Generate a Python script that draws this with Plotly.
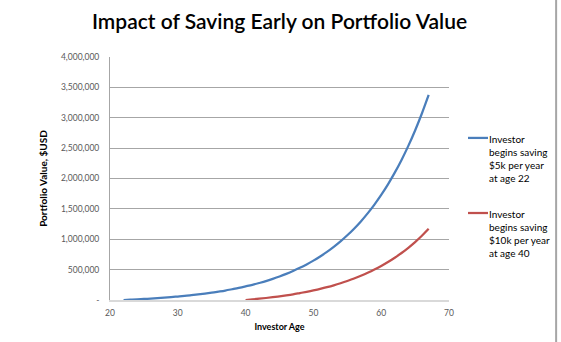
import plotly.graph_objects as go

# Portfolio value by investor age (USD), read year by year
ages_early = list(range(22, 68))
value_early = [
    0, 5000, 10000, 17000, 23000, 30000, 38000, 47000, 57000, 67000,
    79000, 92000, 106000, 121000, 138000, 156000, 177000, 199000, 224000, 250000,
    280000, 312000, 348000, 387000, 430000, 477000, 529000, 586000, 648000, 717000,
    792000, 875000, 965000, 1065000, 1174000, 1294000, 1426000, 1571000, 1730000, 1904000,
    2096000, 2306000, 2537000, 2791000, 3070000, 3375000,
]

ages_late = list(range(40, 68))
value_late = [
    0, 10000, 21000, 33000, 46000, 61000, 77000, 94000, 114000, 135000,
    158000, 183000, 211000, 242000, 276000, 313000, 353000, 398000, 447000, 501000,
    560000, 625000, 696000, 774000, 860000, 954000, 1058000, 1172000,
]

name_early = "Investor<br>begins saving<br>$5k per year<br>at age 22"
name_late = "Investor<br>begins saving<br>$10k per year<br>at age 40"

y_ticks = [0, 500000, 1000000, 1500000, 2000000, 2500000, 3000000, 3500000, 4000000]
y_tick_text = ["-", "500,000", "1,000,000", "1,500,000", "2,000,000",
               "2,500,000", "3,000,000", "3,500,000", "4,000,000"]
x_ticks = [20, 30, 40, 50, 60, 70]

FONT = "Lato, 'Open Sans', sans-serif"
TICK_COLOR = "#595959"
BLUE = "#4A7EBB"
RED = "#C0504D"

fig = go.Figure()
fig.add_trace(go.Scatter(
    x=ages_early, y=value_early, mode="lines", name=name_early,
    line=dict(color=BLUE, width=2.25, shape="spline"),
))
fig.add_trace(go.Scatter(
    x=ages_late, y=value_late, mode="lines", name=name_late,
    line=dict(color=RED, width=2.25, shape="spline"),
))

# Legend drawn beside the plot: a short line key plus wrapped label per series
legend_shapes = []
legend_notes = []
for color, label, y_key, y_text in [
    (BLUE, name_early, 0.667, 0.695),
    (RED, name_late, 0.358, 0.386),
]:
    legend_shapes.append(dict(
        type="line", xref="paper", yref="paper",
        x0=1.056, x1=1.115, y0=y_key, y1=y_key,
        line=dict(color=color, width=2.25),
    ))
    legend_notes.append(dict(
        xref="paper", yref="paper", x=1.113, y=y_text,
        xanchor="left", yanchor="top", align="left", showarrow=False,
        text=label, font=dict(family=FONT, size=10, color="#000000"),
    ))

fig.update_layout(
    width=561, height=342,
    margin=dict(l=110, r=112, t=57, b=42),
    paper_bgcolor="white", plot_bgcolor="white",
    showlegend=False,
    title=dict(
        text="Impact of Saving Early on Portfolio Value",
        x=0.5, xanchor="center", xref="paper",
        y=0.936, yanchor="middle",
        font=dict(family=FONT, size=21, color="#000000", weight=600),
    ),
    xaxis=dict(
        range=[20, 70], tickvals=x_ticks,
        tickfont=dict(family=FONT, size=8.5, color=TICK_COLOR),
        showgrid=False, zeroline=False,
        showline=True, linecolor="#D9D9D9", linewidth=2,
        ticks="", ticklabelstandoff=4,
        title=dict(text="<b>Investor Age</b>", standoff=6,
                   font=dict(family=FONT, size=9, color="#000000")),
    ),
    yaxis=dict(
        range=[0, 4000000], tickvals=y_ticks, ticktext=y_tick_text,
        tickfont=dict(family=FONT, size=8.5, color=TICK_COLOR),
        showgrid=True, gridcolor="#A6A6A6", gridwidth=1,
        zeroline=False,
        showline=True, linecolor="#A6A6A6", linewidth=1,
        ticks="", ticklabelstandoff=8,
        title=dict(text="<b>Portfolio Value, $USD</b>", standoff=11,
                   font=dict(family=FONT, size=10, color="#000000")),
    ),
    shapes=legend_shapes + [
        dict(type="line", xref="paper", yref="paper",
             x0=1.316, x1=1.316, y0=-0.2, y1=1.3,
             line=dict(color="#A6A6A6", width=2)),
    ],
    annotations=legend_notes,
)

fig.write_html("out.html")
